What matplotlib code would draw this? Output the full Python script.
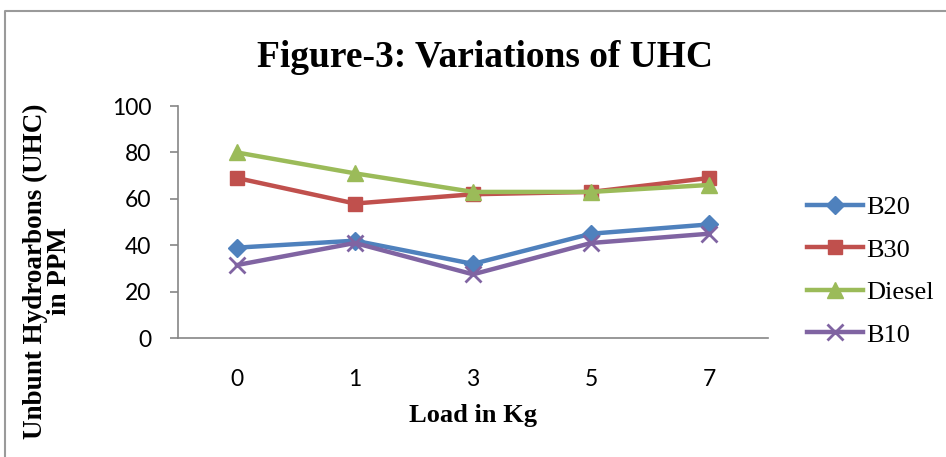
import matplotlib.pyplot as plt
from matplotlib.lines import Line2D

loads = ['0', '1', '3', '5', '7']
b20 = [39, 42, 32, 45, 49]
b30 = [69, 58, 62, 63, 69]
diesel = [80, 71, 63, 63, 66]
b10 = [31.5, 41, 27.5, 41, 45]

series = [('B20', b20, '#4F81BD', 'D', 9),
          ('B30', b30, '#C0504D', 's', 10),
          ('Diesel', diesel, '#9BBB59', '^', 11),
          ('B10', b10, '#8064A2', 'x', 11)]

serif = 'Liberation Serif'
sans = 'Lato'
grey = '#868686'

fig = plt.figure(figsize=(9.46, 4.57), dpi=100)
ax = fig.add_axes([0.188, 0.26, 0.624, 0.508])

x = range(len(loads))
for name, vals, col, mk, ms in series:
    ax.plot(x, vals, color=col, lw=3.2, marker=mk, markersize=ms,
            markeredgewidth=2 if mk == 'x' else 1, markeredgecolor=col, label=name)

ax.set_xlim(-0.5, len(loads) - 0.5)
ax.set_ylim(0, 100)
ax.set_yticks(range(0, 101, 20))
ax.set_xticks(list(x))
ax.set_xticklabels(loads)
for s in ['top', 'right']:
    ax.spines[s].set_visible(False)
for s in ['left', 'bottom']:
    ax.spines[s].set_color(grey)
    ax.spines[s].set_linewidth(1.2)
ax.tick_params(axis='y', colors=grey, length=6, width=1.2, labelcolor='black',
               labelsize=16.5, pad=13)
ax.tick_params(axis='x', length=0, labelsize=16.5, pad=22)
for lab in ax.get_xticklabels() + ax.get_yticklabels():
    lab.set_fontfamily(sans)

ax.set_xlabel('Load in Kg', fontfamily=serif, fontweight='bold', fontsize=19, labelpad=10)
ax.set_ylabel('Unbunt Hydroarbons (UHC)\nin PPM', fontfamily=serif, fontweight='bold',
              fontsize=19.5, linespacing=0.9)
ax.yaxis.set_label_coords(-0.18, 0.29)

fig.text(0.513, 0.875, 'Figure-3: Variations of UHC', ha='center', va='center',
         fontfamily=serif, fontweight='bold', fontsize=27)

handles = [Line2D([], [], color=c, lw=3.2, marker=m, markersize=ms,
                  markeredgewidth=2 if m == 'x' else 1, markeredgecolor=c)
           for _, _, c, m, ms in series]
leg = fig.legend(handles, [s[0] for s in series], loc='upper left',
                 bbox_to_anchor=(0.842, 0.595), frameon=False, handlelength=2.1,
                 handletextpad=0.15, labelspacing=0.72, borderaxespad=0,
                 prop={'family': serif, 'size': 19})

# page frame around the chart
x0 = 5 / 946
y0 = 1 - 11 / 457
fig.add_artist(Line2D([x0, x0, 1.0], [0.0, y0, y0], transform=fig.transFigure,
                      color='#9a9a9a', lw=1.5))

fig.savefig('out.png', dpi=100)
